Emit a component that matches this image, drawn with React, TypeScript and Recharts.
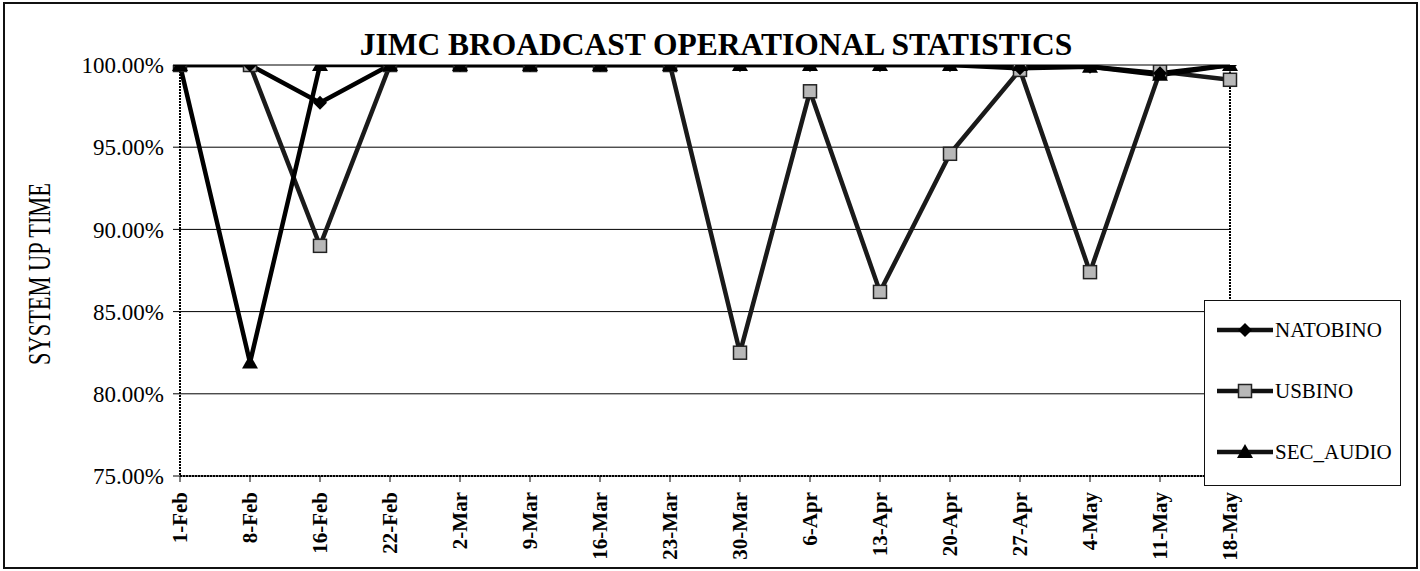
import React from 'react';
import { LineChart, Line, XAxis, YAxis, CartesianGrid, ReferenceLine, Legend } from 'recharts';

// week labels along the x axis
const weeks = [
  '1-Feb', '8-Feb', '16-Feb', '22-Feb', '2-Mar', '9-Mar', '16-Mar', '23-Mar',
  '30-Mar', '6-Apr', '13-Apr', '20-Apr', '27-Apr', '4-May', '11-May', '18-May',
];

// system up time, percent
const natobino = [100, 100, 97.7, 100, 100, 100, 100, 100, 100, 100, 100, 100, 99.8, 99.9, 99.5, 100];
const usbino = [100, 100, 89.0, 100, 100, 100, 100, 100, 82.5, 98.4, 86.2, 94.6, 99.7, 87.4, 99.6, 99.1];
const secAudio = [100, 81.9, 100, 100, 100, 100, 100, 100, 100, 100, 100, 100, 100, 99.9, 99.4, 100];

const yTicks = [75, 80, 85, 90, 95, 100];

const data = weeks.map((w, i) => ({
  week: w,
  NATOBINO: natobino[i],
  USBINO: usbino[i],
  SEC_AUDIO: secAudio[i],
}));

const SERIF = '"Liberation Serif", "Times New Roman", serif';

const Diamond = ({ cx, cy, s = 7 }: any) => (
  <path d={`M${cx},${cy - s} L${cx + s},${cy} L${cx},${cy + s} L${cx - s},${cy} Z`} fill="#000" />
);
const Square = ({ cx, cy, s = 6.5 }: any) => (
  <rect x={cx - s} y={cy - s} width={s * 2} height={s * 2} fill="#b8b8b8" stroke="#222" strokeWidth={1.5} />
);
const Triangle = ({ cx, cy, s = 8 }: any) => (
  <path d={`M${cx},${cy - s} L${cx + s},${cy + s * 0.75} L${cx - s},${cy + s * 0.75} Z`} fill="#000" />
);

const dotOf = (Shape: any) => (p: any) =>
  p.cx == null ? <g key={`e-${p.index}`} /> : (
    <g key={`d-${p.index}`}>
      <Shape cx={p.cx} cy={p.cy} />
    </g>
  );

const XTick = ({ x, y, payload }: any) => (
  <text
    transform={`translate(${x},${y}) rotate(-90)`}
    textAnchor="end"
    dy="0.35em"
    fontFamily={SERIF}
    fontWeight="bold"
    fontSize={21}
    fill="#000"
  >
    {payload.value}
  </text>
);

const legendItems = [
  { name: 'NATOBINO', Shape: Diamond },
  { name: 'USBINO', Shape: Square },
  { name: 'SEC_AUDIO', Shape: Triangle },
];

const LegendBox = () => (
  <div style={{ width: 197, height: 186, boxSizing: 'border-box', border: '1.5px solid #111', background: '#fff' }}>
    <svg width={195} height={183}>
      {legendItems.map((it, i) => {
        const cy = 29 + i * 61;
        return (
          <g key={it.name}>
            <line x1={12} x2={68} y1={cy} y2={cy} stroke="#111" strokeWidth={4.5} />
            <it.Shape cx={40} cy={cy} />
            <text x={70} y={cy} dy="0.35em" fontFamily={SERIF} fontSize={21} fill="#000">
              {it.name}
            </text>
          </g>
        );
      })}
    </svg>
  </div>
);

export default function App() {
  return (
    <div style={{ position: 'absolute', left: 0, top: 0, width: 1420, height: 571, background: '#fff' }}>
      <LineChart width={1420} height={571} data={data} margin={{ top: 65, right: 190, left: 0, bottom: 5 }}>
        <CartesianGrid horizontal vertical={false} stroke="#000" strokeWidth={1} />
        <XAxis
          dataKey="week"
          height={90}
          interval={0}
          tickSize={6}
          tickMargin={10}
          tick={<XTick />}
          axisLine={{ stroke: '#000', strokeWidth: 2, strokeDasharray: '2 1' }}
          tickLine={{ stroke: '#000' }}
        />
        <YAxis
          width={180}
          domain={[75, 100]}
          ticks={yTicks}
          allowDataOverflow
          tickSize={7}
          tickMargin={9}
          tickFormatter={(v: number) => `${v.toFixed(2)}%`}
          tick={{ fontFamily: SERIF, fontSize: 23, fill: '#000' }}
          axisLine={{ stroke: '#000', strokeWidth: 2, strokeDasharray: '2 1' }}
          tickLine={{ stroke: '#000' }}
        />
        <ReferenceLine x="18-May" stroke="#000" strokeWidth={2} strokeDasharray="2 1" />
        <Legend
          layout="vertical"
          align="center"
          verticalAlign="middle"
          wrapperStyle={{ left: 1204, top: 300, width: 197, height: 186 }}
          content={<LegendBox />}
        />
        <Line dataKey="USBINO" stroke="#1a1a1a" strokeWidth={4.5} dot={dotOf(Square)} isAnimationActive={false} />
        <Line dataKey="NATOBINO" stroke="#000" strokeWidth={4.5} dot={dotOf(Diamond)} isAnimationActive={false} />
        <Line dataKey="SEC_AUDIO" stroke="#000" strokeWidth={4.5} dot={dotOf(Triangle)} isAnimationActive={false} />
      </LineChart>
      <svg width={1420} height={571} style={{ position: 'absolute', left: 0, top: 0, pointerEvents: 'none' }}>
        <rect x={4} y={3} width={1413} height={565} fill="none" stroke="#111" strokeWidth={2} />
        <text x={716} y={55} textAnchor="middle" fontFamily={SERIF} fontWeight="bold" fontSize={31.5} fill="#000">
          JIMC BROADCAST OPERATIONAL STATISTICS
        </text>
        <text
          transform="translate(39,274) rotate(-90)"
          textAnchor="middle"
          dy="0.35em"
          fontFamily={SERIF}
          fontSize={32}
          textLength={182}
          lengthAdjust="spacingAndGlyphs"
          fill="#000"
        >
          SYSTEM UP TIME
        </text>
      </svg>
    </div>
  );
}
